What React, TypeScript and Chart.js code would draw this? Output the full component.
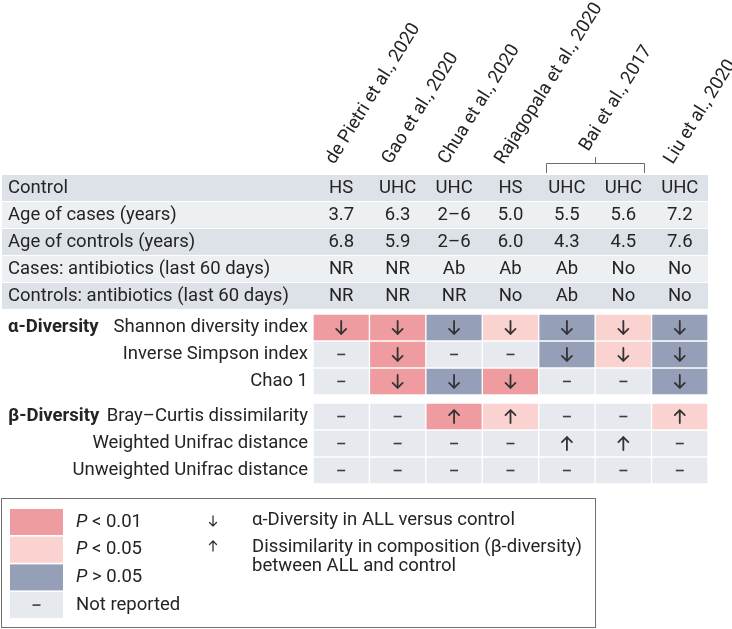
import React, { useEffect, useRef } from 'react';
import { Chart, registerables } from 'chart.js';

Chart.register(...registerables);

// ---------- data ----------
const cohorts = ['de Pietri 2020', 'Gao 2020', 'Chua 2020', 'Rajagopala 2020', 'Bai 2017 (a)', 'Bai 2017 (b)', 'Liu 2020'];
const studyLabels = ['de Pietri et al., 2020', 'Gao et al., 2020', 'Chua et al., 2020', 'Rajagopala et al., 2020', 'Bai et al., 2017', 'Liu et al., 2020'];
const studyColumnCounts = [1, 1, 1, 1, 2, 1];

const characteristicLabels = [
  'Control',
  'Age of cases (years)',
  'Age of controls (years)',
  'Cases: antibiotics (last 60 days)',
  'Controls: antibiotics (last 60 days)',
];
const controlType = ['HS', 'UHC', 'UHC', 'HS', 'UHC', 'UHC', 'UHC'];
const ageOfCases = ['3.7', '6.3', '2–6', '5.0', '5.5', '5.6', '7.2'];
const ageOfControls = ['6.8', '5.9', '2–6', '6.0', '4.3', '4.5', '7.6'];
const casesAntibiotics = ['NR', 'NR', 'Ab', 'Ab', 'Ab', 'No', 'No'];
const controlsAntibiotics = ['NR', 'NR', 'NR', 'No', 'Ab', 'No', 'No'];
const characteristicValues = [controlType, ageOfCases, ageOfControls, casesAntibiotics, controlsAntibiotics];

const diversityGroups = ['α-Diversity', 'β-Diversity'];
const alphaMetrics = ['Shannon diversity index', 'Inverse Simpson index', 'Chao 1'];
const betaMetrics = ['Bray–Curtis dissimilarity', 'Weighted Unifrac distance', 'Unweighted Unifrac distance'];

// significance: p01 = P<0.01, p05 = P<0.05, ns = P>0.05, nr = not reported
const shannonSignificance = ['p01', 'p01', 'ns', 'p05', 'ns', 'p05', 'ns'];
const shannonMark = ['down', 'down', 'down', 'down', 'down', 'down', 'down'];
const inverseSimpsonSignificance = ['nr', 'p01', 'nr', 'nr', 'ns', 'p05', 'ns'];
const inverseSimpsonMark = ['dash', 'down', 'dash', 'dash', 'down', 'down', 'down'];
const chao1Significance = ['nr', 'p01', 'ns', 'p01', 'nr', 'nr', 'ns'];
const chao1Mark = ['dash', 'down', 'down', 'down', 'dash', 'dash', 'down'];
const brayCurtisSignificance = ['nr', 'nr', 'p01', 'p05', 'nr', 'nr', 'p05'];
const brayCurtisMark = ['dash', 'dash', 'up', 'up', 'dash', 'dash', 'up'];
const weightedUnifracSignificance = ['nr', 'nr', 'nr', 'nr', 'nr', 'nr', 'nr'];
const weightedUnifracMark = ['dash', 'dash', 'dash', 'dash', 'up', 'up', 'dash'];
const unweightedUnifracSignificance = ['nr', 'nr', 'nr', 'nr', 'nr', 'nr', 'nr'];
const unweightedUnifracMark = ['dash', 'dash', 'dash', 'dash', 'dash', 'dash', 'dash'];

const alphaSignificance = [shannonSignificance, inverseSimpsonSignificance, chao1Significance];
const alphaMarks = [shannonMark, inverseSimpsonMark, chao1Mark];
const betaSignificance = [brayCurtisSignificance, weightedUnifracSignificance, unweightedUnifracSignificance];
const betaMarks = [brayCurtisMark, weightedUnifracMark, unweightedUnifracMark];

const legendKeys = ['p01', 'p05', 'ns', 'nr'];
const legendLabels = [['P', ' < 0.01'], ['P', ' < 0.05'], ['P', ' > 0.05'], ['', 'Not reported']];
const arrowLegend = ['α-Diversity in ALL versus control', 'Dissimilarity in composition (β-diversity)', 'between ALL and control'];

// ---------- styles ----------
const sigColors: Record<string, string> = {
  p01: '#ef9ca0',
  p05: '#fad3d0',
  ns: '#95a0b8',
  nr: '#e6e9ee',
};
const bandDark = '#dde2e9';
const bandLight = '#edf0f3';
const textColor = '#262324';
const FONT = 'Roboto, "Noto Sans", sans-serif';
const FS = 18.5;
const SECTION_GAP_TOP = 0.15;
const SECTION_GAP_MID = 0.3;

const groups = [
  { label: diversityGroups[0], metrics: alphaMetrics, sig: alphaSignificance, marks: alphaMarks },
  { label: diversityGroups[1], metrics: betaMetrics, sig: betaSignificance, marks: betaMarks },
];

function rowStart(g: number, r: number) {
  return characteristicLabels.length + SECTION_GAP_TOP + g * (3 + SECTION_GAP_MID) + r;
}
const yMax = rowStart(1, betaMetrics.length);

function drawArrow(ctx: CanvasRenderingContext2D, cx: number, cy: number, up: boolean, len: number, head: number, lw: number, color: string) {
  const s = up ? -1 : 1;
  const tipY = cy + (s * len) / 2;
  const tailY = cy - (s * len) / 2;
  ctx.save();
  ctx.strokeStyle = color;
  ctx.lineWidth = lw;
  ctx.lineCap = 'round';
  ctx.lineJoin = 'round';
  ctx.beginPath();
  ctx.moveTo(cx, tailY);
  ctx.lineTo(cx, tipY);
  ctx.moveTo(cx - head, tipY - s * head);
  ctx.lineTo(cx, tipY);
  ctx.lineTo(cx + head, tipY - s * head);
  ctx.stroke();
  ctx.restore();
}

function drawDash(ctx: CanvasRenderingContext2D, cx: number, cy: number, w: number, color: string) {
  ctx.save();
  ctx.strokeStyle = color;
  ctx.lineWidth = 1.6;
  ctx.beginPath();
  ctx.moveTo(cx - w / 2, cy);
  ctx.lineTo(cx + w / 2, cy);
  ctx.stroke();
  ctx.restore();
}

const tablePlugin = {
  id: 'tablePlugin',
  beforeDatasetsDraw(chart: any) {
    const { ctx, chartArea, scales } = chart;
    const y = scales.y;
    ctx.save();
    characteristicLabels.forEach((_, i) => {
      const top = y.getPixelForValue(i);
      const bot = y.getPixelForValue(i + 1);
      ctx.fillStyle = i % 2 === 0 ? bandDark : bandLight;
      ctx.fillRect(2, top, chartArea.right - 2, bot - top - 1);
    });
    ctx.restore();
  },
  afterDatasetsDraw(chart: any) {
    const { ctx, chartArea, scales } = chart;
    const x = scales.x;
    const y = scales.y;
    ctx.save();
    ctx.fillStyle = textColor;
    ctx.textBaseline = 'middle';

    // characteristic rows
    characteristicLabels.forEach((label, i) => {
      const cy = y.getPixelForValue(i + 0.5);
      ctx.font = `${FS}px ${FONT}`;
      ctx.textAlign = 'left';
      ctx.fillText(label, 8, cy);
      ctx.textAlign = 'center';
      characteristicValues[i].forEach((v, j) => {
        ctx.fillText(v, x.getPixelForValue(j), cy);
      });
    });

    // diversity rows
    groups.forEach((g, gi) => {
      g.metrics.forEach((m, r) => {
        const cy = y.getPixelForValue(rowStart(gi, r) + 0.5);
        if (r === 0) {
          ctx.font = `bold ${FS}px ${FONT}`;
          ctx.textAlign = 'left';
          ctx.fillText(g.label, 8, cy);
        }
        ctx.font = `${FS}px ${FONT}`;
        ctx.textAlign = 'right';
        ctx.fillText(m, chartArea.left - 5, cy);
        g.marks[r].forEach((mk, j) => {
          const cx = x.getPixelForValue(j);
          if (mk === 'dash') drawDash(ctx, cx, cy, 8, '#3d3d3d');
          else drawArrow(ctx, cx, cy, mk === 'up', 13, 5, 1.8, '#333333');
        });
      });
    });

    // column headers (rotated)
    const angle = (-58 * Math.PI) / 180;
    let col = 0;
    studyLabels.forEach((label, k) => {
      const span = studyColumnCounts[k];
      const first = x.getPixelForValue(col);
      const last = x.getPixelForValue(col + span - 1);
      const cx = (first + last) / 2;
      let ay = chartArea.top - 10;
      if (span > 1) {
        // bracket
        const by = chartArea.top - 12;
        ctx.save();
        ctx.strokeStyle = '#6b6b6b';
        ctx.lineWidth = 1;
        ctx.beginPath();
        ctx.moveTo(Math.round(first - 21) + 0.5, chartArea.top - 2);
        ctx.lineTo(Math.round(first - 21) + 0.5, by + 0.5);
        ctx.lineTo(Math.round(last + 21) + 0.5, by + 0.5);
        ctx.lineTo(Math.round(last + 21) + 0.5, chartArea.top - 2);
        ctx.moveTo(Math.round(cx) + 0.5, by + 0.5);
        ctx.lineTo(Math.round(cx) + 0.5, by - 6);
        ctx.stroke();
        ctx.restore();
        ay = by - 11;
      }
      ctx.save();
      ctx.translate(cx - 7, ay);
      ctx.rotate(angle);
      ctx.font = `${FS}px ${FONT}`;
      ctx.textAlign = 'left';
      ctx.textBaseline = 'alphabetic';
      ctx.fillText(label, 0, 0);
      ctx.restore();
      col += span;
    });

    // legend box
    const bx = 1.5, bTop = 498.5, bw = 594, bh = 129;
    ctx.strokeStyle = '#707070';
    ctx.lineWidth = 1;
    ctx.strokeRect(bx, bTop, bw, bh);
    legendKeys.forEach((key, i) => {
      const top = 509 + i * 27.7;
      ctx.fillStyle = sigColors[key];
      ctx.fillRect(10, top, 53, 26);
      const cy = top + 13;
      ctx.fillStyle = textColor;
      ctx.textAlign = 'left';
      const [it, rest] = legendLabels[i];
      let tx = 76;
      if (it) {
        ctx.font = `italic ${FS}px ${FONT}`;
        ctx.fillText(it, tx, cy);
        tx += ctx.measureText(it).width;
      }
      ctx.font = `${FS}px ${FONT}`;
      ctx.fillText(rest, tx, cy);
      if (key === 'nr') drawDash(ctx, 36.5, cy, 8, '#3d3d3d');
    });
    drawArrow(ctx, 213, 521, false, 10, 3.5, 1.3, '#333333');
    drawArrow(ctx, 213, 546, true, 10, 3.5, 1.3, '#333333');
    ctx.fillStyle = textColor;
    ctx.font = `${FS}px ${FONT}`;
    ctx.textAlign = 'left';
    ctx.fillText(arrowLegend[0], 252, 520);
    ctx.fillText(arrowLegend[1], 252, 547);
    ctx.fillText(arrowLegend[2], 252, 566);

    ctx.restore();
  },
};

export default function App() {
  const ref = useRef<HTMLCanvasElement>(null);
  useEffect(() => {
    if (!ref.current) return;
    const datasets: any[] = [];
    groups.forEach((g, gi) => {
      g.metrics.forEach((m, r) => {
        const s = rowStart(gi, r);
        datasets.push({
          label: m,
          data: cohorts.map(() => [s, s + 1]),
          backgroundColor: g.sig[r].map((c) => sigColors[c]),
          borderColor: '#ffffff',
          borderWidth: 1,
          borderSkipped: false,
          grouped: false,
          barPercentage: 1,
          categoryPercentage: 1,
        });
      });
    });
    const chart = new Chart(ref.current, {
      type: 'bar',
      data: { labels: cohorts, datasets },
      options: {
        animation: false,
        responsive: false,
        layout: { padding: { left: 313, right: 24, top: 175, bottom: 145 } },
        plugins: { legend: { display: false }, tooltip: { enabled: false } },
        scales: {
          x: { type: 'category', display: false, offset: true },
          y: { type: 'linear', display: false, min: 0, max: yMax, reverse: true },
        },
      },
      plugins: [tablePlugin],
    });
    return () => chart.destroy();
  }, []);
  return (
    <div style={{ position: 'absolute', left: 0, top: 0, width: 732, height: 629, background: '#fff' }}>
      <canvas ref={ref} width={732} height={629} />
    </div>
  );
}
